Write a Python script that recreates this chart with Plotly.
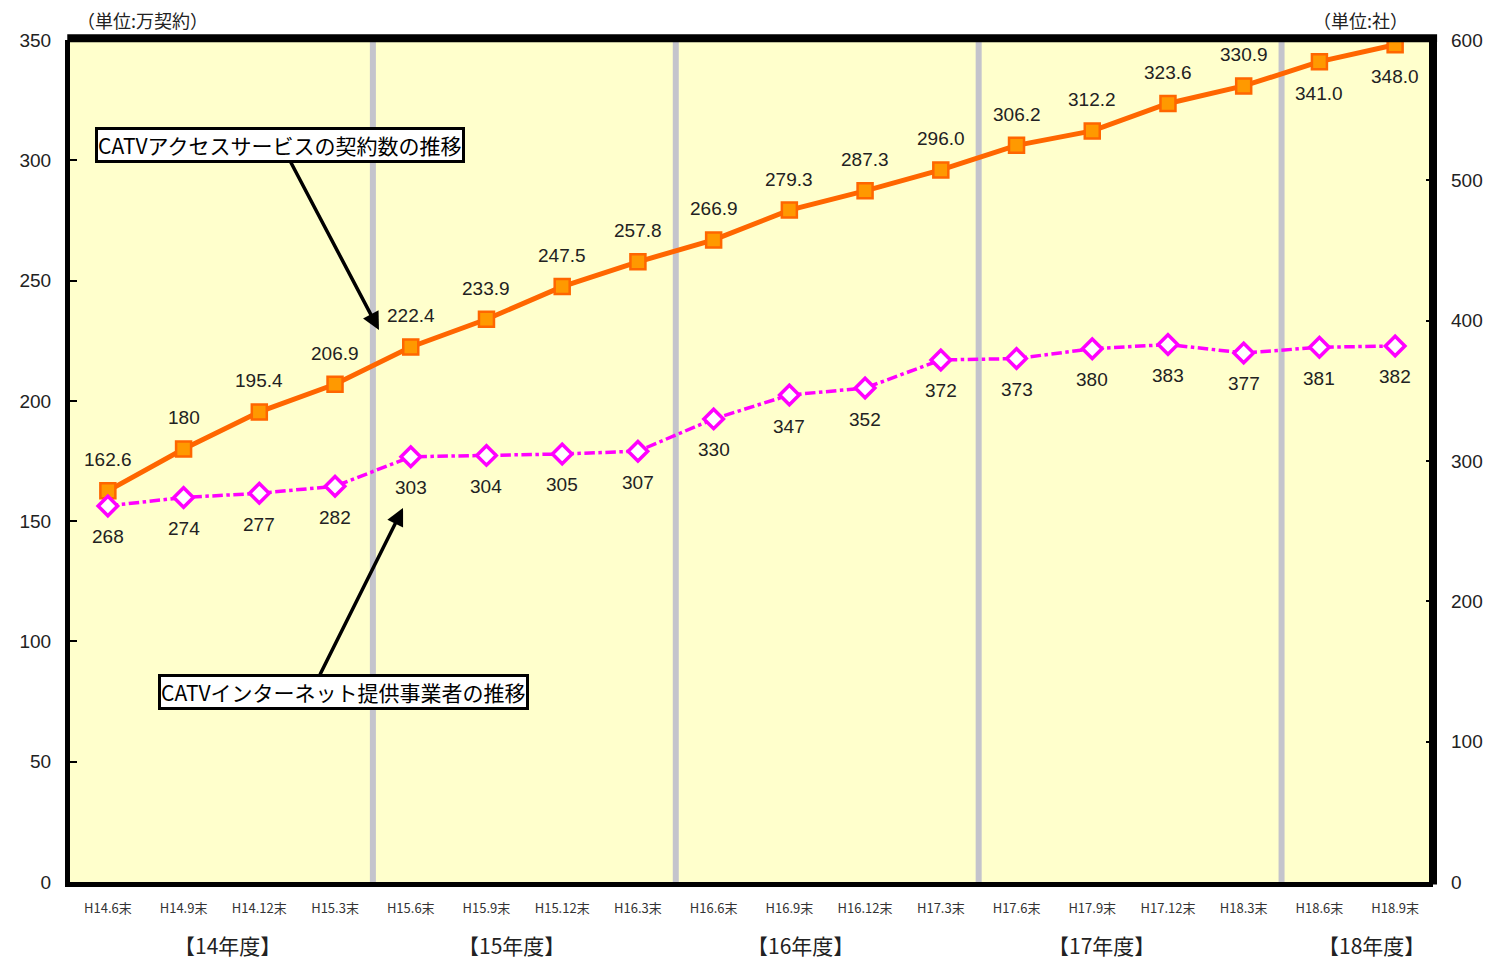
import plotly.graph_objects as go

categories = ["H14.6末", "H14.9末", "H14.12末", "H15.3末", "H15.6末", "H15.9末",
              "H15.12末", "H16.3末", "H16.6末", "H16.9末", "H16.12末", "H17.3末",
              "H17.6末", "H17.9末", "H17.12末", "H18.3末", "H18.6末", "H18.9末"]
contracts = [162.6, 180, 195.4, 206.9, 222.4, 233.9, 247.5, 257.8, 266.9, 279.3,
             287.3, 296.0, 306.2, 312.2, 323.6, 330.9, 341.0, 348.0]
contract_labels = ["162.6", "180", "195.4", "206.9", "222.4", "233.9", "247.5", "257.8",
                   "266.9", "279.3", "287.3", "296.0", "306.2", "312.2", "323.6", "330.9",
                   "341.0", "348.0"]
providers = [268, 274, 277, 282, 303, 304, 305, 307, 330, 347, 352, 372, 373, 380,
             383, 377, 381, 382]
fiscal_years = ["【14年度】", "【15年度】", "【16年度】", "【17年度】", "【18年度】"]
year_start_idx = [4, 8, 12, 16]  # first category of each new fiscal year

JP = "Noto Sans CJK JP"
NUM = "Liberation Sans, Arial, sans-serif"

fig = go.Figure()

fig.add_trace(go.Scatter(
    x=categories, y=contracts, mode="lines+markers", yaxis="y",
    line=dict(color="#FF6600", width=5),
    marker=dict(symbol="square", size=15, color="#FF9900",
                line=dict(color="#FF6600", width=2.5)),
    showlegend=False, hoverinfo="x+y"))

fig.add_trace(go.Scatter(
    x=categories, y=providers, mode="lines+markers", yaxis="y2",
    line=dict(color="#FF00FF", width=3.5, dash="dashdot"),
    marker=dict(symbol="diamond", size=15, color="white",
                line=dict(color="#FF00FF", width=3.5)),
    showlegend=False, hoverinfo="x+y"))

annotations = []
n = len(categories)
for i, (c, v, t) in enumerate(zip(categories, contracts, contract_labels)):
    below = i >= n - 2
    annotations.append(dict(x=c, y=v, xref="x", yref="y", text=t, showarrow=False,
                            yshift=-32 if below else 31,
                            font=dict(family=NUM, size=19, color="#222")))
for c, v in zip(categories, providers):
    annotations.append(dict(x=c, y=v, xref="x", yref="y2", text=str(v), showarrow=False,
                            yshift=-31, font=dict(family=NUM, size=19, color="#222")))

# callout boxes
annotations.append(dict(x=2.279, y=306.4, xref="x", yref="y",
                        text="CATVアクセスサービスの契約数の推移", showarrow=False,
                        bgcolor="white", bordercolor="black", borderwidth=3, borderpad=0,
                        font=dict(family=JP, size=21, color="black")))
annotations.append(dict(x=3.115, y=78.8, xref="x", yref="y",
                        text="CATVインターネット提供事業者の推移", showarrow=False,
                        bgcolor="white", bordercolor="black", borderwidth=3, borderpad=0,
                        font=dict(family=JP, size=21, color="black")))
# arrows
annotations.append(dict(x=3.58, y=229.5, ax=2.40, ay=300.1, xref="x", yref="y",
                        axref="x", ayref="y", text="", showarrow=True, arrowhead=2,
                        arrowsize=1.0, arrowwidth=3.5, arrowcolor="black"))
annotations.append(dict(x=3.898, y=155.5, ax=2.792, ay=85.6, xref="x", yref="y",
                        axref="x", ayref="y", text="", showarrow=True, arrowhead=2,
                        arrowsize=1.0, arrowwidth=3.5, arrowcolor="black"))

# units
annotations.append(dict(x=0.004, y=1.0238, xref="paper", yref="paper",
                        xanchor="left", yanchor="middle",
                        text="（単位:万契約）", showarrow=False,
                        font=dict(family=JP, size=18, color="#222")))
annotations.append(dict(x=0.983, y=1.0238, xref="paper", yref="paper",
                        xanchor="right", yanchor="middle",
                        text="（単位:社）", showarrow=False,
                        font=dict(family=JP, size=18, color="#222")))

# fiscal-year group labels
year_x = [0.1156, 0.324, 0.536, 0.757, 0.9547]
for xp, t in zip(year_x, fiscal_years):
    annotations.append(dict(x=xp, y=-0.0748, xref="paper", yref="paper", text=t,
                            xanchor="center", yanchor="middle",
                            showarrow=False, font=dict(family=JP, size=21, color="#222")))

shapes = []
for idx in year_start_idx:
    shapes.append(dict(type="line", xref="x", yref="paper", x0=idx - 0.5, x1=idx - 0.5,
                       y0=0, y1=1, line=dict(color="#C4C4CC", width=6), layer="below"))
# heavy top and right frame
shapes.append(dict(type="line", xref="paper", yref="paper", x0=-0.002, x1=1.003, y0=1.002, y1=1.002,
                   line=dict(color="black", width=8)))
shapes.append(dict(type="line", xref="paper", yref="paper", x0=1.0, x1=1.0, y0=-0.003, y1=1.006,
                   line=dict(color="black", width=8)))

fig.update_layout(
    width=1495, height=960,
    margin=dict(l=70, r=55, t=40, b=78),
    paper_bgcolor="white", plot_bgcolor="#FFFFCC",
    annotations=annotations, shapes=shapes,
    xaxis=dict(type="category", range=[-0.5, n - 0.5], showgrid=False, zeroline=False,
               showline=True, linecolor="black", linewidth=5, ticks="",
               ticklabelstandoff=10,
               tickfont=dict(family=JP, size=13, color="#333")),
    yaxis=dict(range=[0, 350], dtick=50, showgrid=False, zeroline=False,
               showline=True, linecolor="black", linewidth=5,
               ticks="inside", ticklen=7, tickwidth=2, tickcolor="black",
               ticklabelstandoff=10,
               tickfont=dict(family=NUM, size=19, color="#222")),
    yaxis2=dict(range=[0, 600], dtick=100, overlaying="y", side="right",
                showgrid=False, zeroline=False, showline=False,
                ticks="inside", ticklen=7, tickwidth=2, tickcolor="black",
                ticklabelstandoff=17,
                tickfont=dict(family=NUM, size=19, color="#222")),
)

fig.write_html("out.html")
